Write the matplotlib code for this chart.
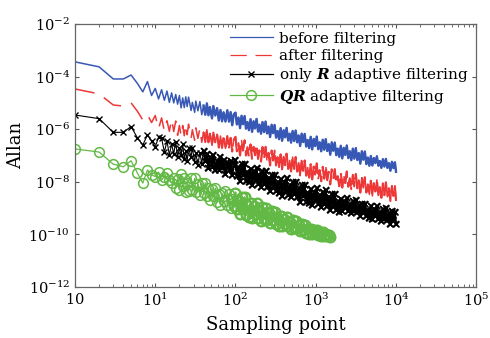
import numpy as np
import matplotlib
matplotlib.use('Agg')
import matplotlib.pyplot as plt
from matplotlib.ticker import LogLocator, NullLocator

# sampling points (cluster size), shared by the four curves
sample_x = [
    1, 2, 3, 4, 5, 6, 7, 8, 9, 10,
    11, 12, 13, 14, 15, 16, 17, 18, 19, 20,
    21, 22, 23, 24, 25, 26, 28, 29, 31, 32,
    34, 36, 38, 40, 42, 44, 46, 48, 51, 53,
    56, 59, 62, 65, 68, 71, 75, 79, 83, 87,
    91, 95,
    100, 104, 109, 114, 119, 124, 130, 135, 141, 147,
    154, 161, 168, 175, 183, 191, 199, 208, 217, 227,
    237, 247, 258, 270, 282, 294, 307, 320, 335, 349,
    365, 381, 398, 415, 433, 453, 473, 493, 515, 538,
    562, 586, 612, 639, 667, 697, 728, 760, 793, 828,
    865, 903, 943, 984, 1028, 1073, 1120, 1170, 1221, 1275,
    1331, 1390, 1451, 1515, 1582, 1652, 1725, 1801, 1880, 1963,
    2050, 2140, 2234, 2333, 2436, 2543, 2655, 2772, 2895, 3022,
    3156, 3295, 3440, 3592, 3750, 3916, 4088, 4269, 4457, 4653,
    4859, 5073, 5296, 5530, 5774, 6029, 6294, 6572, 6862, 7164,
    7480, 7810, 8155, 8514, 8890, 9282, 9691, 10000,
]

# Allan values, kept as log10
before_log = [
    -3.44, -3.63, -4.09, -4.09, -3.94, -4.26, -4.58, -4.19, -4.72, -4.45,
    -4.85, -4.50, -4.90, -4.55, -4.98, -4.62, -5.00, -4.68, -5.05, -4.72,
    -5.19, -4.81, -5.18, -4.77, -5.14, -4.78, -5.29, -4.98, -5.36, -4.93,
    -5.30, -4.95, -5.45, -5.10, -5.45, -5.02, -5.47, -5.16, -5.59, -5.12,
    -5.48, -5.20, -5.67, -5.27, -5.70, -5.36, -5.71, -5.28, -5.71, -5.35,
    -5.85, -5.44,
    -5.37, -5.82, -5.56, -5.96, -5.49, -5.81, -5.50, -5.98, -5.73, -6.04,
    -5.62, -6.10, -5.70, -5.97, -5.61, -6.09, -5.83, -6.17, -5.73, -6.11,
    -5.71, -6.16, -5.90, -6.30, -5.83, -6.15, -5.84, -6.32, -6.07, -6.38,
    -5.96, -6.44, -6.04, -6.31, -5.95, -6.43, -6.17, -6.51, -6.07, -6.45,
    -6.05, -6.50, -6.24, -6.64, -6.17, -6.49, -6.18, -6.66, -6.41, -6.72,
    -6.29, -6.77, -6.37, -6.64, -6.28, -6.76, -6.50, -6.84, -6.40, -6.78,
    -6.38, -6.83, -6.57, -6.97, -6.50, -6.82, -6.51, -6.99, -6.74, -7.05,
    -6.63, -7.11, -6.71, -6.98, -6.62, -7.10, -6.84, -7.18, -6.74, -7.12,
    -6.72, -7.17, -6.91, -7.31, -6.84, -7.16, -6.85, -7.33, -7.08, -7.39,
    -7.02, -7.38, -7.10, -7.29, -7.03, -7.39, -7.21, -7.47, -7.14, -7.42,
    -7.13, -7.47, -7.29, -7.58, -7.24, -7.48, -7.26, -7.62,
]
after_log = [
    -4.47, -4.66, -5.08, -5.12, -5.00, -5.32, -5.65, -5.45, -5.75, -5.48,
    -5.99, -5.57, -6.07, -5.68, -6.08, -5.62, -6.09, -5.69, -6.23, -5.86,
    -6.27, -5.86, -6.25, -5.81, -6.21, -5.81, -6.35, -6.02, -6.42, -5.95,
    -6.35, -5.97, -6.50, -6.11, -6.49, -6.02, -6.50, -6.17, -6.62, -6.13,
    -6.50, -6.19, -6.70, -6.26, -6.71, -6.34, -6.73, -6.26, -6.71, -6.33,
    -6.85, -6.41,
    -6.29, -6.84, -6.52, -7.00, -6.43, -6.81, -6.42, -7.00, -6.69, -7.07,
    -6.58, -7.16, -6.67, -6.99, -6.55, -7.13, -6.81, -7.23, -6.68, -7.13,
    -6.67, -7.22, -6.90, -7.38, -6.81, -7.19, -6.80, -7.38, -7.07, -7.45,
    -6.96, -7.54, -7.05, -7.37, -6.93, -7.51, -7.19, -7.61, -7.06, -7.51,
    -7.06, -7.61, -7.29, -7.77, -7.20, -7.58, -7.19, -7.77, -7.46, -7.84,
    -7.33, -7.91, -7.42, -7.74, -7.30, -7.88, -7.56, -7.98, -7.43, -7.88,
    -7.39, -7.94, -7.62, -8.10, -7.53, -7.91, -7.52, -8.10, -7.79, -8.17,
    -7.64, -8.22, -7.73, -8.05, -7.61, -8.19, -7.87, -8.29, -7.74, -8.19,
    -7.70, -8.25, -7.93, -8.41, -7.84, -8.22, -7.83, -8.41, -8.10, -8.48,
    -7.96, -8.54, -8.05, -8.37, -7.93, -8.51, -8.19, -8.61, -8.06, -8.51,
    -8.02, -8.57, -8.25, -8.73, -8.16, -8.54, -8.15, -8.73,
]
only_r_log = [
    -5.46, -5.60, -6.12, -6.12, -5.90, -6.33, -6.60, -6.22, -6.45, -6.68,
    -6.30, -6.35, -6.87, -6.45, -6.98, -6.56, -6.94, -6.49, -7.07, -6.71,
    -6.99, -6.56, -7.15, -6.84, -7.21, -6.72, -7.05, -6.71, -7.25, -6.91,
    -7.35, -6.90, -7.31, -6.83, -7.21, -6.93, -7.49, -7.06, -7.42, -6.98,
    -7.55, -7.21, -7.56, -7.05, -7.49, -7.18, -7.71, -7.25, -7.55, -7.21,
    -7.74, -7.40,
    -7.19, -7.79, -7.44, -7.96, -7.33, -7.75, -7.33, -7.96, -7.61, -8.02,
    -7.50, -8.13, -7.60, -7.94, -7.46, -8.09, -7.74, -8.19, -7.60, -8.08,
    -7.59, -8.19, -7.84, -8.36, -7.73, -8.15, -7.73, -8.36, -8.01, -8.42,
    -7.90, -8.53, -8.00, -8.34, -7.86, -8.49, -8.14, -8.59, -8.00, -8.48,
    -7.99, -8.59, -8.24, -8.76, -8.13, -8.55, -8.13, -8.76, -8.41, -8.82,
    -8.27, -8.90, -8.37, -8.71, -8.23, -8.86, -8.51, -8.96, -8.37, -8.85,
    -8.31, -8.91, -8.56, -9.08, -8.45, -8.87, -8.45, -9.08, -8.73, -9.14,
    -8.64, -9.12, -8.72, -8.99, -8.63, -9.11, -8.85, -9.19, -8.75, -9.13,
    -8.71, -9.16, -8.90, -9.30, -8.83, -9.15, -8.84, -9.32, -9.07, -9.38,
    -8.94, -9.42, -9.02, -9.29, -8.93, -9.41, -9.15, -9.49, -9.05, -9.43,
    -9.01, -9.46, -9.20, -9.60, -9.13, -9.45, -9.14, -9.62,
]
qr_log = [
    -6.75, -6.87, -7.33, -7.43, -7.20, -7.67, -8.05, -7.55, -7.74, -7.80,
    -7.63, -7.93, -7.80, -7.67, -7.95, -8.05, -7.85, -8.25, -7.90, -8.30,
    -7.72, -8.16, -7.85, -8.37, -8.03, -8.34, -7.86, -8.30, -7.87, -8.40,
    -8.09, -8.50, -8.06, -8.41, -8.04, -8.54, -8.23, -8.70, -8.26, -8.54,
    -8.24, -8.77, -8.46, -8.87, -8.43, -8.75, -8.35, -8.89, -8.45, -8.98,
    -8.67, -8.93,
    -8.41, -9.04, -8.69, -9.24, -8.59, -9.02, -8.59, -9.26, -8.90, -9.35,
    -8.81, -9.37, -8.92, -9.23, -8.80, -9.37, -9.07, -9.48, -8.95, -9.40,
    -9.00, -9.44, -9.20, -9.58, -9.13, -9.44, -9.15, -9.61, -9.37, -9.67,
    -9.32, -9.68, -9.40, -9.60, -9.34, -9.70, -9.52, -9.78, -9.46, -9.74,
    -9.51, -9.77, -9.64, -9.87, -9.62, -9.82, -9.65, -9.93, -9.80, -9.99,
    -9.80, -9.99, -9.85, -9.96, -9.83, -10.02, -9.93, -10.07, -9.91, -10.06,
    -9.97, -10.06, -10.03, -10.11,
]

x_ticks = [1, 10, 100, 1000, 10000, 100000]
x_labels = ['$10$', '$10^{1}$', '$10^{2}$', '$10^{3}$', '$10^{4}$', '$10^{5}$']
y_ticks = [1e-12, 1e-10, 1e-8, 1e-6, 1e-4, 1e-2]
y_labels = ['$10^{-12}$', '$10^{-10}$', '$10^{-8}$', '$10^{-6}$', '$10^{-4}$', '$10^{-2}$']

plt.rcParams['font.family'] = 'DejaVu Serif'
plt.rcParams['mathtext.fontset'] = 'custom'
plt.rcParams['mathtext.rm'] = 'DejaVu Serif'
plt.rcParams['mathtext.it'] = 'DejaVu Serif:italic'
plt.rcParams['mathtext.bf'] = 'DejaVu Serif:italic:bold'

BLUE, RED, GREEN = '#3858b5', '#ee3838', '#63b945'

fig = plt.figure(figsize=(4.9, 3.38), dpi=100)
ax = fig.add_axes([0.153, 0.151, 0.819, 0.778])

x = np.array(sample_x)
yb = 10 ** np.array(before_log)
yr = 10 ** np.array(after_log)
yk = 10 ** np.array(only_r_log)
yg = 10 ** np.array(qr_log)
xg = x[:len(yg)]
# past ~40 points the original curves are so dense they read as solid bands
d = np.searchsorted(x, 40)
dg = np.searchsorted(x, 95)

ax.plot(x, yb, color=BLUE, lw=1.1, label='before filtering')
ax.plot(x[d:], yb[d:], color=BLUE, lw=1.7)
ax.plot(x, yr, color=RED, lw=1.1, dashes=(13, 7), label='after filtering')
ax.plot(x[d:], yr[d:], color=RED, lw=1.5, dashes=(10, 4))
ax.plot(x, yk, color='black', lw=0.8, marker='x', ms=5, mew=1.0,
        label=r'only $\mathbf{R}$ adaptive filtering')
ax.plot(x[d:], yk[d:], color='black', lw=1.5, marker='x', ms=5, mew=1.2)
ax.plot(xg, yg, color=GREEN, lw=0.9, marker='o', ms=7, mfc='none', mew=1.1,
        label=r'$\mathbf{QR}$ adaptive filtering')
ax.plot(xg[dg:], yg[dg:], color=GREEN, lw=1.6, marker='o', ms=7, mfc='none',
        mew=1.6)

ax.set_xscale('log')
ax.set_yscale('log')
ax.set_xlim(1, 1e5)
ax.set_ylim(1e-12, 1e-2)
ax.set_xticks(x_ticks)
ax.set_xticklabels(x_labels)
ax.xaxis.set_minor_locator(LogLocator(base=10, subs=np.arange(2, 10)))
ax.set_yticks(y_ticks)
ax.set_yticklabels(y_labels)
ax.yaxis.set_minor_locator(NullLocator())
ax.tick_params(which='both', direction='in', top=True, right=True,
               labelsize=10.5, colors='#555555', labelcolor='black')
ax.tick_params(which='major', length=3)
ax.tick_params(which='minor', length=2)
for s in ax.spines.values():
    s.set_color('#666666')
    s.set_linewidth(0.9)

ax.set_xlabel('Sampling point', fontsize=13)
ax.xaxis.set_label_coords(0.5, -0.11)
ax.set_ylabel('Allan', fontsize=13)
ax.yaxis.set_label_coords(-0.125, 0.54)

leg = ax.legend(loc='upper right', frameon=False, fontsize=11,
                handlelength=2.8, borderaxespad=0.1, labelspacing=0.22,
                handletextpad=0.4, numpoints=1)
for h in leg.legend_handles:
    h.set_linewidth(0.9)

plt.savefig('out.png', dpi=100)
